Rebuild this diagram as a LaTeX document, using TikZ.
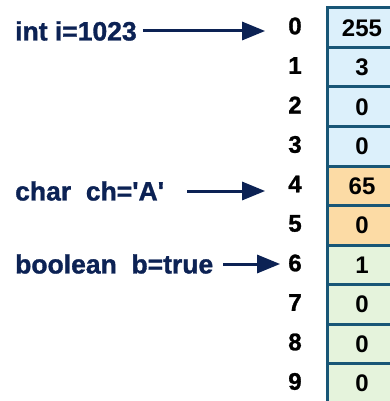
\documentclass[tikz,border=0pt]{standalone}
\usepackage{fontspec}
\setmainfont{Liberation Sans}
\newfontfamily\heavyfont{Liberation Sans}[BoldFeatures={FakeBold=1.2}]
\usetikzlibrary{arrows.meta, positioning, calc}
\definecolor{navy}{RGB}{12,34,84}
\definecolor{cellborder}{RGB}{24,86,118}
\definecolor{intfill}{RGB}{220,240,251}
\definecolor{charfill}{RGB}{252,219,165}
\definecolor{boolfill}{RGB}{229,243,220}

\begin{document}
\begin{tikzpicture}[x=1pt, y=-1pt,
  cell/.style={draw=cellborder, line width=3pt, minimum width=70pt, minimum height=39.5pt,
    inner sep=0pt, font=\fontsize{24}{28}\selectfont\bfseries},
  idx/.style={font=\heavyfont\fontsize{24}{28}\selectfont\bfseries, inner sep=2pt},
  varlabel/.style={anchor=west, text=navy, inner sep=0pt, font=\heavyfont\fontsize{26.5}{30}\selectfont\bfseries},
  pointer/.style={draw=navy, line width=3pt, -{Triangle[length=23pt, width=18pt]}}]
  \useasboundingbox (0,0) rectangle (390,401);
  % memory cells
  \foreach \v/\c [count=\n from 0] in {255/intfill, 3/intfill, 0/intfill, 0/intfill,
      65/charfill, 0/charfill, 1/boolfill, 0/boolfill, 0/boolfill, 0/boolfill} {
    \node[cell, fill=\c] (c\n) at (362, 27.75+39.5*\n) {\v};
    \node[idx] (i\n) at (295, 26+39.5*\n) {\n};
  }
  % variables
  \node[varlabel] (vint) at (15,31) {int i=1023};
  \node[varlabel] (vchar) at (15,191) {char\ \ ch=\textquotesingle A\textquotesingle};
  \node[varlabel] (vbool) at (15,264) {boolean\ \ b=true};
  \draw[pointer, shorten <=6pt, shorten >=21pt] (vint.east) -- (vint.east -| i0.west);
  \draw[pointer, shorten <=23pt, shorten >=21pt] (vchar.east) -- (vchar.east -| i4.west);
  \draw[pointer, shorten <=10pt, shorten >=6pt] (vbool.east) -- (vbool.east -| i6.west);
\end{tikzpicture}
\end{document}
